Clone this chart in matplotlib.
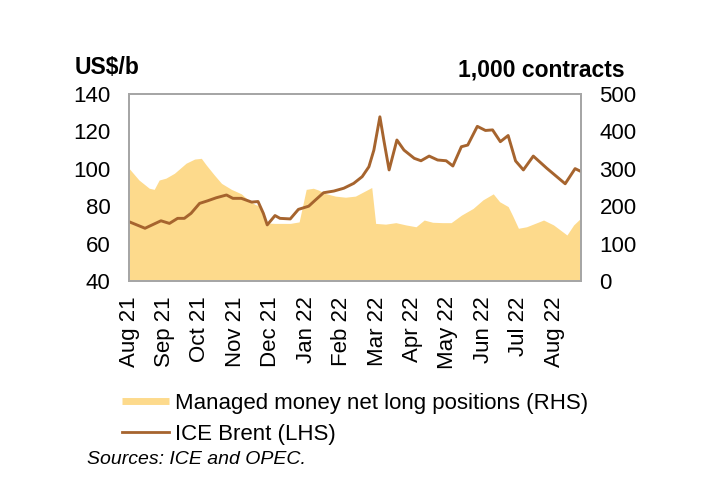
import matplotlib
matplotlib.use('Agg')
import matplotlib.pyplot as plt
from matplotlib.lines import Line2D

plt.rcParams['font.family'] = 'Liberation Sans'

# x positions are months since start of Aug 2021
months = ['Aug 21', 'Sep 21', 'Oct 21', 'Nov 21', 'Dec 21', 'Jan 22', 'Feb 22',
          'Mar 22', 'Apr 22', 'May 22', 'Jun 22', 'Jul 22', 'Aug 22']

brent_x = [0.0, 0.45, 0.90, 1.14, 1.37, 1.56, 1.75, 1.99, 2.22, 2.46, 2.75, 2.93,
           3.17, 3.46, 3.64, 3.79, 3.90, 4.12, 4.26, 4.55, 4.78, 5.07, 5.26, 5.49,
           5.78, 6.06, 6.34, 6.58, 6.77, 6.91, 7.08, 7.19, 7.34, 7.56, 7.76, 8.05,
           8.24, 8.47, 8.71, 8.95, 9.14, 9.38, 9.56, 9.83, 10.06, 10.26, 10.48,
           10.70, 10.91, 11.13, 11.41, 11.79, 12.31, 12.59, 12.75]
brent = [71.7, 68.2, 72.2, 70.8, 73.5, 73.5, 76.2, 81.5, 82.9, 84.5, 86.0, 84.2,
         84.2, 82.2, 82.5, 76.2, 70.0, 75.0, 73.5, 73.2, 78.3, 80.0, 83.3, 87.2,
         88.1, 89.6, 92.2, 95.8, 101.1, 110.0, 127.8, 115.4, 99.4, 115.4, 110.0,
         105.6, 104.3, 106.8, 104.7, 104.3, 101.5, 111.8, 112.7, 122.7, 120.5,
         120.8, 114.5, 117.8, 104.2, 99.4, 106.8, 100.3, 92.0, 100.1, 98.6]

mm_x = [0.0, 0.28, 0.57, 0.71, 0.85, 1.04, 1.28, 1.61, 1.85, 2.04, 2.18, 2.41,
        2.61, 2.89, 3.17, 3.36, 3.55, 3.70, 3.90, 4.12, 4.55, 4.80, 5.00, 5.20,
        5.35, 5.54, 5.82, 6.11, 6.39, 6.63, 6.85, 6.96, 7.24, 7.53, 7.81, 8.10,
        8.33, 8.57, 8.85, 9.09, 9.38, 9.71, 9.99, 10.28, 10.46, 10.70, 10.82,
        10.99, 11.22, 11.70, 11.98, 12.36, 12.55, 12.75]
mm_long = [301, 270, 248, 245, 270, 275, 288, 315, 326, 328, 310, 283, 261, 245,
           233, 217, 205, 200, 155, 154, 154, 158, 245, 248, 243, 234, 227, 224,
           227, 239, 250, 154, 152, 156, 150, 145, 163, 157, 156, 156, 176, 194,
           217, 233, 212, 199, 176, 141, 145, 163, 150, 123, 150, 168]

fill_col = '#FDDA8C'
line_col = '#A6642E'
frame_col = '#A6A6A6'
fs = 16

fig = plt.figure(figsize=(7.17, 5.0), dpi=100)
ax = fig.add_axes([0.18, 0.438, 0.63, 0.374])
ax2 = ax.twinx()

ax2.fill_between(mm_x, 0, mm_long, color=fill_col, linewidth=0)
ax.plot(brent_x, brent, color=line_col, lw=2.1, solid_joinstyle='round')
ax.set_zorder(ax2.get_zorder() + 1)
ax.patch.set_visible(False)

ax.set_xlim(0, 12.75)
ax.set_ylim(40, 140)
ax2.set_ylim(0, 500)
ax.set_yticks(range(40, 141, 20))
ax2.set_yticks(range(0, 501, 100))
ax.set_xticks(range(len(months)))
ax.set_xticklabels(months, rotation=90)

ax.tick_params(axis='y', length=0, pad=13.5, labelsize=fs)
ax2.tick_params(axis='y', length=0, pad=13.5, labelsize=fs)
ax.tick_params(axis='x', length=0, pad=11, labelsize=fs)
for a in (ax, ax2):
    for s in a.spines.values():
        s.set_color(frame_col)
        s.set_linewidth(1.3)

fig.text(75 / 717, 1 - 68 / 500, 'US$/b', fontsize=16.5, fontweight='bold', va='center', ha='left')
fig.text(625 / 717, 1 - 70 / 500, '1,000 contracts', fontsize=16.5, fontweight='bold', va='center', ha='right')

handles = [Line2D([], [], color=fill_col, lw=5, solid_capstyle='butt'),
           Line2D([], [], color=line_col, lw=2.0)]
fig.legend(handles, ['Managed money net long positions (RHS)', 'ICE Brent (LHS)'],
           loc='upper left', bbox_to_anchor=(122 / 717, 1 - 393 / 500), frameon=False,
           fontsize=fs, handlelength=2.1, handletextpad=0.3, labelspacing=0.45,
           borderaxespad=0, borderpad=0)
fig.text(87 / 717, 1 - 460 / 500, 'Sources: ICE and OPEC.', fontsize=14, style='italic', va='center', ha='left')

plt.savefig('out.png', dpi=100)
